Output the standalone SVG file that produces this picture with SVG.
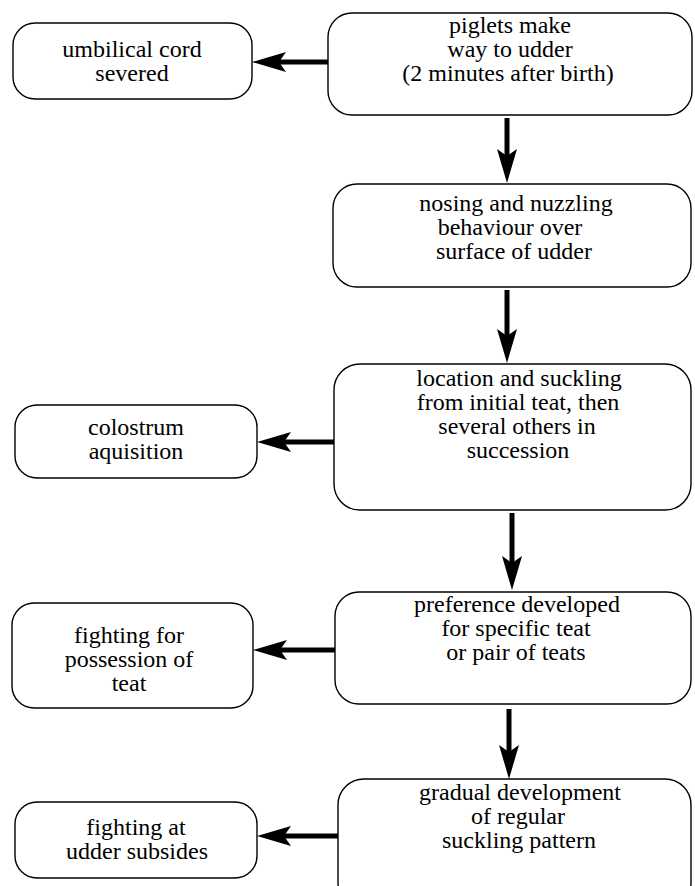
<svg xmlns="http://www.w3.org/2000/svg" width="695" height="886" viewBox="0 0 695 886">
<style>
.box{fill:#fff;stroke:#000;stroke-width:1.4}
.t{font-family:"Liberation Serif","Times New Roman",serif;font-size:24px;fill:#000;text-anchor:middle}
.c{stroke:#000;stroke-width:5;fill:none}
</style>
<defs>
<marker id="ah" viewBox="-22 -12 38 24" markerWidth="38" markerHeight="24" refX="0" refY="0" markerUnits="userSpaceOnUse" orient="auto" overflow="visible">
<path d="M14,0 L-20,-10 L-13,0 L-20,10 Z" fill="#000"/>
</marker>
</defs>
<rect width="695" height="886" fill="#fff"/>
<g id="connectors">
<line class="c" x1="330" y1="62" x2="266" y2="62" marker-end="url(#ah)"/>
<line class="c" x1="507" y1="118" x2="507" y2="169" marker-end="url(#ah)"/>
<line class="c" x1="507" y1="290" x2="507" y2="349" marker-end="url(#ah)"/>
<line class="c" x1="334" y1="442" x2="271" y2="442" marker-end="url(#ah)"/>
<line class="c" x1="512" y1="513" x2="512" y2="576" marker-end="url(#ah)"/>
<line class="c" x1="336" y1="650" x2="267" y2="650" marker-end="url(#ah)"/>
<line class="c" x1="509" y1="709" x2="509" y2="765" marker-end="url(#ah)"/>
<line class="c" x1="338" y1="836" x2="271" y2="836" marker-end="url(#ah)"/>
</g>
<g id="n-umbilical">
<rect class="box" x="13" y="23" width="239" height="76" rx="22"/>
<text class="t" x="132" y="57">umbilical cord</text>
<text class="t" x="132" y="81">severed</text>
</g>
<g id="n-piglets">
<rect class="box" x="328" y="13" width="364" height="102" rx="24"/>
<text class="t" x="510" y="33">piglets make</text>
<text class="t" x="510" y="57">way to udder</text>
<text class="t" x="508" y="81">(2 minutes after birth)</text>
</g>
<g id="n-nosing">
<rect class="box" x="333" y="184" width="358" height="103" rx="24"/>
<text class="t" x="516" y="211">nosing and nuzzling</text>
<text class="t" x="510" y="235">behaviour over</text>
<text class="t" x="514" y="259">surface of udder</text>
</g>
<g id="n-location">
<rect class="box" x="334" y="364" width="357" height="146" rx="26"/>
<text class="t" x="519" y="386">location and suckling</text>
<text class="t" x="518" y="410">from initial teat, then</text>
<text class="t" x="517" y="434">several others in</text>
<text class="t" x="518" y="458">succession</text>
</g>
<g id="n-colostrum">
<rect class="box" x="15" y="405" width="242" height="73" rx="22"/>
<text class="t" x="136" y="435">colostrum</text>
<text class="t" x="136" y="459">aquisition</text>
</g>
<g id="n-preference">
<rect class="box" x="335" y="592" width="356" height="112" rx="24"/>
<text class="t" x="517" y="612">preference developed</text>
<text class="t" x="516" y="636">for specific teat</text>
<text class="t" x="516" y="660">or pair of teats</text>
</g>
<g id="n-fighting-possession">
<rect class="box" x="12" y="603" width="241" height="105" rx="22"/>
<text class="t" x="129" y="643">fighting for</text>
<text class="t" x="129" y="667">possession of</text>
<text class="t" x="129" y="691">teat</text>
</g>
<g id="n-gradual">
<rect class="box" x="338" y="779" width="353" height="130" rx="26"/>
<text class="t" x="520" y="800">gradual development</text>
<text class="t" x="518" y="824">of regular</text>
<text class="t" x="519" y="848">suckling pattern</text>
</g>
<g id="n-fighting-udder">
<rect class="box" x="15" y="802" width="242" height="76" rx="22"/>
<text class="t" x="136" y="835">fighting at</text>
<text class="t" x="137" y="859">udder subsides</text>
</g>
</svg>
